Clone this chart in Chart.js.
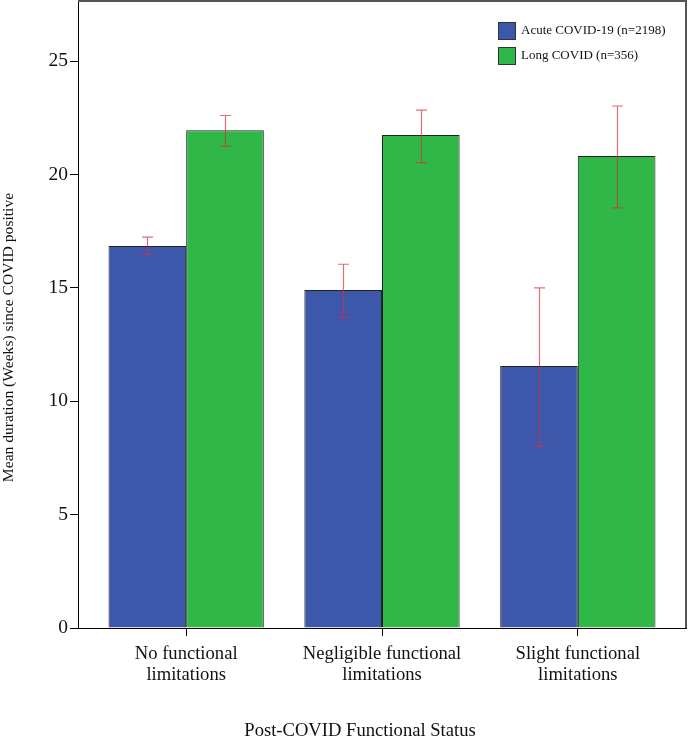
<!DOCTYPE html>
<html>
<head>
<meta charset="utf-8">
<script src="https://cdn.jsdelivr.net/npm/chart.js@4"></script>
<style>
  html, body { margin: 0; padding: 0; background: #fff; }
  #wrap { width: 689px; height: 739px; }
</style>
</head>
<body>
<div id="wrap"><canvas id="chart" width="689" height="739"></canvas></div>
<script>
// categories (multi-line tick labels)
const categories = [
  ['No functional', 'limitations'],
  ['Negligible functional', 'limitations'],
  ['Slight functional', 'limitations'],
];
const seriesNames = ['Acute COVID-19 (n=2198)', 'Long COVID (n=356)'];
const xTitle = 'Post-COVID Functional Status';
const yTitle = 'Mean duration (Weeks) since COVID positive';

// mean weeks since COVID positive
const acuteMean = [16.85, 14.90, 11.55];
const acuteLow  = [16.49, 13.70, 8.02];
const acuteHigh = [17.24, 16.04, 15.00];

const longMean = [21.95, 21.74, 20.81];
const longLow  = [21.24, 20.52, 18.53];
const longHigh = [22.60, 22.84, 23.02];

const yTicks = [0, 5, 10, 15, 20, 25];

const BLUE = '#3d58ab';
const GREEN = '#2fb848';
const FONT = "'Liberation Serif', 'DejaVu Serif', serif";

const toPts = arr => arr.map((v, i) => ({ x: i, y: v }));

// draws the red confidence bars on top of each bar
const errorBars = {
  id: 'errorBars',
  afterDatasetsDraw(chart) {
    const { ctx } = chart;
    const ys = chart.scales.y;
    const ranges = [[acuteLow, acuteHigh], [longLow, longHigh]];
    ctx.save();
    ctx.strokeStyle = 'rgba(215, 45, 65, 0.7)';
    ctx.lineWidth = 1.2;
    chart.data.datasets.forEach((ds, di) => {
      const meta = chart.getDatasetMeta(di);
      meta.data.forEach((bar, i) => {
        const x = Math.round(bar.x) + 0.5;
        const top = ys.getPixelForValue(ranges[di][1][i]);
        const bot = ys.getPixelForValue(ranges[di][0][i]);
        ctx.beginPath();
        ctx.moveTo(x, top); ctx.lineTo(x, bot);
        ctx.moveTo(x - 5.5, top); ctx.lineTo(x + 5.5, top);
        ctx.moveTo(x - 5.5, bot); ctx.lineTo(x + 5.5, bot);
        ctx.stroke();
      });
    });
    ctx.restore();
  }
};

// top/right frame, boxed legend, axis titles (off-centre like the original)
const frameLegend = {
  id: 'frameLegend',
  afterDraw(chart) {
    const { ctx, chartArea: a } = chart;
    ctx.save();
    ctx.strokeStyle = '#555';
    ctx.lineWidth = 2;
    ctx.beginPath();
    ctx.moveTo(a.left, a.top);
    ctx.lineTo(a.right, a.top);
    ctx.lineTo(a.right, a.bottom);
    ctx.stroke();

    const colors = [BLUE, GREEN];
    ctx.font = '13px ' + FONT;
    ctx.textBaseline = 'middle';
    seriesNames.forEach((name, i) => {
      const y = 22 + i * 25;
      ctx.fillStyle = colors[i];
      ctx.fillRect(498, y, 17, 17);
      ctx.strokeStyle = '#333';
      ctx.lineWidth = 1;
      ctx.strokeRect(498.5, y + 0.5, 17, 17);
      ctx.fillStyle = '#111';
      ctx.fillText(name, 521, y + 9);
    });

    // x title
    ctx.fillStyle = '#111';
    ctx.font = '18.6px ' + FONT;
    ctx.textAlign = 'center';
    ctx.textBaseline = 'alphabetic';
    ctx.fillText(xTitle, 360, 736);

    // y title
    ctx.font = '15.6px ' + FONT;
    ctx.textBaseline = 'middle';
    ctx.translate(8.5, 337.5);
    ctx.rotate(-Math.PI / 2);
    ctx.fillText(yTitle, 0, 0);
    ctx.restore();
  }
};

new Chart(document.getElementById('chart'), {
  type: 'bar',
  data: {
    datasets: [
      {
        label: seriesNames[0],
        data: toPts(acuteMean),
        backgroundColor: BLUE,
        borderColor: '#222',
        borderWidth: 1,
      },
      {
        label: seriesNames[1],
        data: toPts(longMean),
        backgroundColor: GREEN,
        borderColor: '#222',
        borderWidth: 1,
      },
    ],
  },
  options: {
    responsive: false,
    animation: false,
    categoryPercentage: 0.793,
    barPercentage: 1.0,
    layout: { padding: { top: 1, right: 3, left: 0, bottom: 0 } },
    plugins: {
      legend: { display: false },
      tooltip: { enabled: false },
    },
    scales: {
      x: {
        type: 'linear',
        offset: false,
        min: -0.5524,
        max: 2.5524,
        afterBuildTicks: s => { s.ticks = categories.map((c, i) => ({ value: i })); },
        afterFit: s => { s.height = 111; s.paddingLeft = 0; s.paddingRight = 0; },
        grid: { offset: false, drawOnChartArea: false, drawTicks: true, tickLength: 8, color: '#000' },
        border: { display: true, color: '#000', width: 1 },
        ticks: {
          color: '#111',
          font: { family: FONT, size: 18.6, lineHeight: 1.16 },
          padding: 7,
          maxRotation: 0,
          autoSkip: false,
          callback: v => categories[v] || '',
        },
      },
      y: {
        min: 0,
        max: 27.65,
        afterBuildTicks: s => { s.ticks = yTicks.map(v => ({ value: v })); },
        afterFit: s => { s.width = 78; s.paddingTop = 0; s.paddingBottom = 0; },
        grid: { drawOnChartArea: false, drawTicks: true, tickLength: 8, color: '#000' },
        border: { display: true, color: '#000', width: 1 },
        ticks: {
          color: '#111',
          font: { family: FONT, size: 19.5 },
          padding: 2,
        },
      },
    },
  },
  plugins: [errorBars, frameLegend],
});
</script>
</body>
</html>
